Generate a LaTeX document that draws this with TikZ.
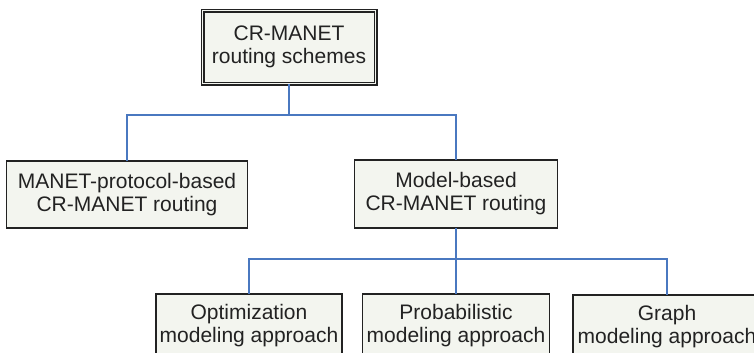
\documentclass[tikz,border=0pt]{standalone}
\usepackage{fontspec}
\setmainfont{Liberation Sans}
\definecolor{boxfill}{HTML}{F3F5EF}
\definecolor{boxline}{HTML}{222222}
\definecolor{linkblue}{HTML}{4A78C0}
\begin{document}
\begin{tikzpicture}[x=1bp,y=-1bp,
  every node/.style={font=\fontsize{21bp}{23bp}\selectfont, text=boxline},
  treebox/.style={draw=boxline, line width=1.4bp, fill=boxfill, align=center,
    inner sep=0pt, outer sep=0pt},
  rootbox/.style={treebox, double=boxfill, double distance=1.8bp, line width=1.1bp},
  link/.style={draw=linkblue, line width=1.6bp}]
  \clip (0,0) rectangle (754,352);

  % root
  \node[rootbox, minimum width=173bp, minimum height=73bp] (root) at (289,47)
    {CR-MANET\\routing schemes};

  % second level
  \node[treebox, minimum width=241bp, minimum height=67bp] (mleft) at (127,194.5)
    {MANET-protocol-based\\CR-MANET routing};
  \node[treebox, minimum width=203bp, minimum height=68bp] (mright) at (456,194)
    {Model-based\\CR-MANET routing};

  % third level
  \node[treebox, minimum width=186bp, minimum height=64bp] (bopt) at (249,326)
    {Optimization\\modeling approach};
  \node[treebox, minimum width=187bp, minimum height=64bp] (bprob) at (456,326)
    {Probabilistic\\modeling approach};
  \node[treebox, minimum width=188bp, minimum height=64bp] (bgraph) at (667,327)
    {Graph\\modeling approach};

  % junctions
  \coordinate (j1) at (289,115);
  \coordinate (j2) at (456,259);

  % connectors
  \draw[link] (root.south) -- (j1);
  \draw[link] (mleft.north) -- (mleft.north |- j1) -- (mright.north |- j1) -- (mright.north);
  \draw[link] (mright.south) -- (j2);
  \draw[link] (bopt.north) -- (bopt.north |- j2) -- (bgraph.north |- j2) -- (bgraph.north);
  \draw[link] (bprob.north) -- (j2);
\end{tikzpicture}
\end{document}
